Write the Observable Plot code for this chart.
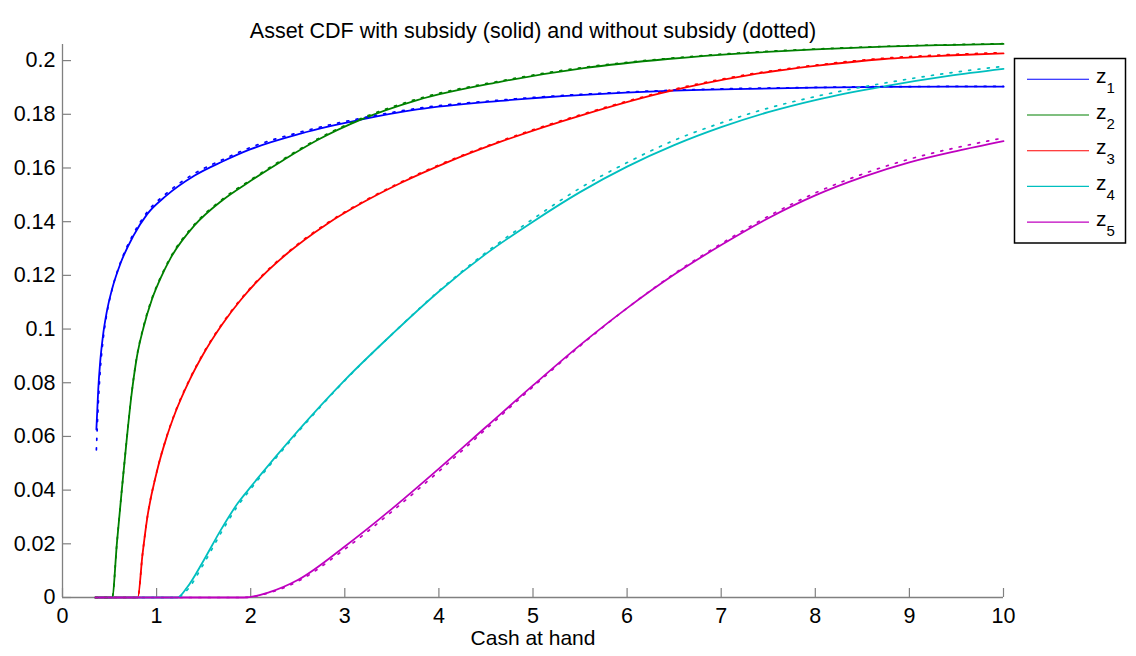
<!DOCTYPE html>
<html><head><meta charset="utf-8">
<script src="https://cdn.jsdelivr.net/npm/d3@7"></script>
<script src="https://cdn.jsdelivr.net/npm/@observablehq/plot@0.6"></script>
<style>body{margin:0;background:#fff;} #chart{width:1136px;height:656px;}</style>
</head><body><div id="chart"></div>
<script>
const titleText = "Asset CDF with subsidy (solid) and without subsidy (dotted)";
const xLabelText = "Cash at hand";
const seriesNames = ["z1","z2","z3","z4","z5"];
const seriesSubs = ["1","2","3","4","5"];
const seriesColors = ["#0000ff","#008000","#ff0000","#00bfbf","#bf00bf"];
const xTicks = [0,1,2,3,4,5,6,7,8,9,10];
const xTickLabels = ["0","1","2","3","4","5","6","7","8","9","10"];
const yTicks = [0,0.02,0.04,0.06,0.08,0.1,0.12,0.14,0.16,0.18,0.2];
const yTickLabels = ["0","0.02","0.04","0.06","0.08","0.1","0.12","0.14","0.16","0.18","0.2"];

// z1
const z1X      = [0.36,0.38,0.40,0.43,0.47,0.53,0.62,0.75,0.90,1.10,1.40,1.70,2.00,2.53,3.17,3.77,4.65,5.54,6.43,7.31,8.0,8.73,10];
const z1Solid  = [0.0626,0.0776,0.0876,0.0975,0.1063,0.1153,0.1248,0.1345,0.1428,0.1496,0.1571,0.1624,0.1670,0.1728,0.1780,0.1818,0.1850,0.1872,0.1887,0.1895,0.1899,0.1902,0.1903];
const z1Dotted = [0.055,0.072,0.084,0.0955,0.1055,0.1152,0.1252,0.1352,0.1436,0.1504,0.1579,0.1631,0.1677,0.1734,0.1785,0.1822,0.1853,0.1875,0.1889,0.1897,0.1900,0.1903,0.1904];
// z2
const z2X      = [0.35,0.527,0.58,0.63,0.68,0.73,0.79,0.86,0.95,1.05,1.15,1.4,1.7,2.0,2.35,2.71,3.17,3.77,4.65,5.54,6.43,7.31,8.0,8.73,9.4,10];
const z2Solid  = [0,0,0.021,0.040,0.058,0.0745,0.0895,0.1005,0.111,0.1195,0.1265,0.1385,0.148,0.1552,0.163,0.1704,0.178,0.1853,0.1921,0.1972,0.2006,0.2029,0.2042,0.2052,0.2058,0.2062];
const z2Dotted = [0,0,0.021,0.040,0.058,0.0746,0.0898,0.1009,0.1114,0.1199,0.1269,0.1389,0.1484,0.1556,0.1634,0.1708,0.1784,0.1857,0.1924,0.1975,0.2008,0.2031,0.2043,0.2053,0.2059,0.2063];
// z3
const z3X      = [0.35,0.8,0.85,0.9,1.0,1.1,1.2,1.35,1.5,1.7,1.9,2.1,2.4,2.8,3.2,3.6,4.1,4.65,5.54,6.35,7.31,8.0,8.73,9.4,10];
const z3Solid  = [0,0,0.016,0.0295,0.0465,0.059,0.069,0.081,0.0909,0.1019,0.1111,0.1189,0.1285,0.1389,0.1473,0.1545,0.1623,0.1697,0.1799,0.1878,0.1947,0.198,0.2006,0.2019,0.2027];
const z3Dotted = [0,0,0.016,0.0295,0.0466,0.0592,0.0693,0.0813,0.0912,0.1022,0.1114,0.1192,0.1288,0.1392,0.1476,0.1548,0.1626,0.17,0.1802,0.1881,0.195,0.1983,0.2009,0.2022,0.203];
// z4
const z4X      = [0.35,1.22,1.325,1.5,1.68,1.86,2.0,2.5,3.0,3.5,4.0,4.5,5.0,5.5,6.0,6.5,7.0,7.5,8.0,8.73,9.4,10];
const z4Solid  = [0,0,0.0038,0.0138,0.025,0.035,0.0412,0.062,0.081,0.098,0.114,0.128,0.140,0.151,0.1605,0.1685,0.1752,0.1808,0.1853,0.1904,0.1942,0.1969];
const z4Dotted = [0,0,0.0028,0.0125,0.0238,0.034,0.0404,0.0615,0.0808,0.098,0.1142,0.1285,0.141,0.1525,0.162,0.1703,0.1768,0.1823,0.1866,0.1916,0.1953,0.1979];
// z5
const z5X      = [0.35,1.93,2.2,2.5,3.0,3.5,4.0,4.5,5.0,5.5,6.0,6.5,7.0,7.5,8.0,8.5,9.0,9.5,10];
const z5Solid  = [0,0,0.002,0.0065,0.019,0.033,0.048,0.0635,0.079,0.094,0.1078,0.1203,0.1313,0.1413,0.1498,0.1566,0.1621,0.1663,0.17];
const z5Dotted = [0,0,0.0018,0.006,0.018,0.032,0.047,0.0627,0.0785,0.0937,0.1078,0.1206,0.1318,0.142,0.1507,0.1577,0.1633,0.1676,0.1712];

const seriesX = [z1X,z2X,z3X,z4X,z5X];
const seriesSolid = [z1Solid,z2Solid,z3Solid,z4Solid,z5Solid];
const seriesDotted = [z1Dotted,z2Dotted,z3Dotted,z4Dotted,z5Dotted];

const solidRows = [], dottedRows = [];
seriesNames.forEach((s,i)=>{
  seriesX[i].forEach((x,j)=>{
    solidRows.push({series:s, x, y:seriesSolid[i][j]});
    dottedRows.push({series:s, x, y:seriesDotted[i][j]});
  });
});

const W=1136, H=656, mL=62, mR=133, mT=44, mB=59;
const frameW = W-mL-mR, frameH = H-mT-mB;
const font = "'Liberation Sans', Arial, Helvetica, sans-serif";
const axisGray = "#808080";

const chart = Plot.plot({
  width:W, height:H, marginLeft:mL, marginRight:mR, marginTop:mT, marginBottom:mB,
  style:{fontFamily:font, background:"white", color:"black"},
  x:{domain:[0,10]},
  y:{domain:[0,0.206]},
  color:{domain:seriesNames, range:seriesColors},
  marks:[
    Plot.ruleY([0],{stroke:axisGray, strokeWidth:1.3}),
    Plot.ruleX([0],{stroke:axisGray, strokeWidth:1.3}),
    Plot.tickY(yTicks,{y:d=>d, stroke:axisGray, strokeWidth:1.2, insetRight: frameW-9}),
    Plot.tickX(xTicks,{x:d=>d, stroke:axisGray, strokeWidth:1.2, insetTop: frameH-9}),
    Plot.axisY({ticks:yTicks, tickSize:0, tickPadding:7, label:null, fontSize:21.5,
      tickFormat:d=>yTickLabels[yTicks.indexOf(d)]}),
    Plot.axisX({ticks:xTicks, tickSize:0, tickPadding:10, label:null, fontSize:21.5,
      tickFormat:d=>xTickLabels[xTicks.indexOf(d)]}),
    Plot.line(solidRows,{x:"x", y:"y", z:"series", stroke:"series", strokeWidth:1.8, curve:"monotone-x"}),
    Plot.line(dottedRows,{x:"x", y:"y", z:"series", stroke:"series", strokeWidth:1.7, strokeDasharray:"2,7.4", curve:"monotone-x"}),
    Plot.text([titleText],{frameAnchor:"top", dy:-22, fontSize:21.5, fill:"black"}),
    Plot.text([xLabelText],{frameAnchor:"bottom", dy:47, fontSize:21, fill:"black"})
  ]
});
document.getElementById("chart").appendChild(chart);

// legend
const svg = d3.select(chart);
const lg = svg.append("g").attr("font-family", font).attr("text-anchor","start");
lg.append("rect").attr("x",1014.5).attr("y",58.5).attr("width",111).attr("height",184.5)
  .attr("fill","white").attr("stroke","black").attr("stroke-width",1.5);
seriesNames.forEach((s,i)=>{
  const yy = 79.3 + i*35.7;
  lg.append("line").attr("x1",1027).attr("x2",1089).attr("y1",yy).attr("y2",yy)
    .attr("stroke",seriesColors[i]).attr("stroke-width",1.1);
  const t = lg.append("text").attr("x",1096).attr("y",yy+3.5).attr("font-size",21)
    .attr("fill","black").attr("text-anchor","start");
  t.append("tspan").text("z");
  t.append("tspan").attr("dy",10).attr("font-size",15).text(seriesSubs[i]);
});
</script>
</body></html>
